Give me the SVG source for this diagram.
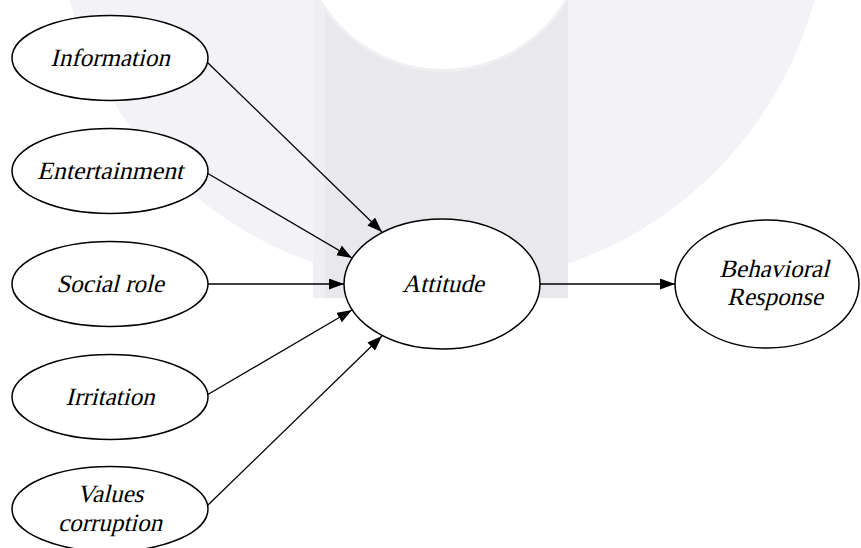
<svg xmlns="http://www.w3.org/2000/svg" width="861" height="548" viewBox="0 0 861 548">
  <defs>
    <style>
      .node ellipse { fill: #ffffff; stroke: #000000; stroke-width: 1.5; }
      .node text { font-family: 'Liberation Serif', 'Times New Roman', serif; font-style: normal; font-size: 25px; fill: #000000; text-anchor: middle; }
      .edge { stroke: #000000; stroke-width: 1.3; fill: none; marker-end: url(#arrow); }
    </style>
    <marker id="arrow" markerUnits="userSpaceOnUse" markerWidth="16" markerHeight="12" refX="15" refY="5.5" orient="auto">
      <path d="M0,0 L15,5.5 L0,11 z" fill="#000000"/>
    </marker>
  </defs>

  <rect x="0" y="0" width="861" height="548" fill="#ffffff"/>
  <g id="watermark">
    <circle cx="442" cy="-101" r="386" fill="#f3f3f7"/>
    <rect x="313" y="0" width="255" height="298" fill="#e9e8ed"/>
    <rect x="313" y="0" width="12" height="298" fill="#efeef3"/>
    <circle cx="443" cy="-73" r="145" fill="#f0f0f2"/>
    <circle cx="443" cy="-73" r="142" fill="#ffffff"/>
  </g>

  <g id="connectors">
    <line class="edge" x1="207" y1="62" x2="382" y2="232"/>
    <line class="edge" x1="207" y1="173" x2="352" y2="258"/>
    <line class="edge" x1="208" y1="284" x2="344" y2="284"/>
    <line class="edge" x1="207" y1="395" x2="352" y2="310"/>
    <line class="edge" x1="207" y1="506" x2="382" y2="336"/>
    <line class="edge" x1="540" y1="284" x2="675" y2="284"/>
  </g>

  <g id="information" class="node">
    <ellipse cx="110" cy="58" rx="98" ry="42.5"/>
    <text transform="translate(110 66) skewX(-14)">Information</text>
  </g>
  <g id="entertainment" class="node">
    <ellipse cx="110" cy="171" rx="98" ry="42.5"/>
    <text transform="translate(110 179) skewX(-14)" textLength="146" lengthAdjust="spacingAndGlyphs">Entertainment</text>
  </g>
  <g id="social-role" class="node">
    <ellipse cx="110" cy="284" rx="98" ry="42.5"/>
    <text transform="translate(110 292) skewX(-14)">Social role</text>
  </g>
  <g id="irritation" class="node">
    <ellipse cx="110" cy="397" rx="98" ry="42.5"/>
    <text transform="translate(110 405) skewX(-14)">Irritation</text>
  </g>
  <g id="values-corruption" class="node">
    <ellipse cx="110" cy="509" rx="98" ry="42.5"/>
    <text transform="translate(110 502) skewX(-14)">Values</text>
    <text transform="translate(110 531) skewX(-14)">corruption</text>
  </g>
  <g id="attitude" class="node">
    <ellipse cx="442" cy="284" rx="98" ry="65"/>
    <text transform="translate(443 292) skewX(-14)">Attitude</text>
  </g>
  <g id="behavioral-response" class="node">
    <ellipse cx="767" cy="284" rx="92" ry="64"/>
    <text transform="translate(774 277) skewX(-14)">Behavioral</text>
    <text transform="translate(775 305) skewX(-14)">Response</text>
  </g>
</svg>
